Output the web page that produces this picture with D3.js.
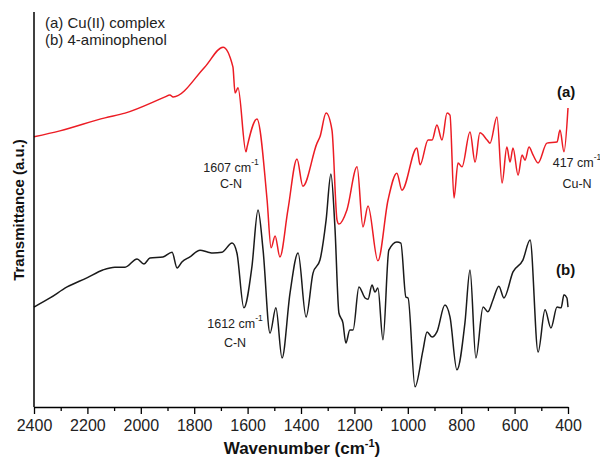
<!DOCTYPE html>
<html>
<head>
<meta charset="utf-8">
<script src="https://cdn.jsdelivr.net/npm/d3@7"></script>
<style>
  body { margin: 0; background: #fff; }
  svg { font-family: "Liberation Sans", Arial, sans-serif; }
</style>
</head>
<body>
<svg id="svg" width="600" height="459"></svg>
<script>
// wavenumbers (cm-1) and transmittance (a.u.)
var waveA = [2400, 2303, 2134, 2059, 1909, 1891, 1879, 1760, 1692, 1655, 1647, 1636, 1606, 1602,
    1565, 1527, 1512, 1497, 1479, 1449, 1415, 1393, 1340, 1329, 1306, 1284, 1265, 1258, 1228,
    1190, 1168, 1149, 1112, 1074, 1041, 1022, 966, 954, 924, 909, 891, 872, 853, 842, 827, 812,
    797, 767, 748, 730, 703, 692, 666, 647, 629, 617, 606, 587, 572, 561, 546, 531, 512, 479,
    441, 430, 415, 400];
var transA = [68.4, 69.9, 73.2, 74.4, 78.5, 79.0, 78.5, 86.1, 91.1, 86.1, 79.5, 80.8, 64.6, 65.8,
    72.9, 52.4, 40.3, 43.3, 38.0, 49.9, 62.8, 55.9, 66.8, 68.4, 74.4, 70.1, 47.3, 46.3, 49.9,
    60.8, 45.6, 50.9, 37.0, 52.4, 59.2, 54.9, 65.6, 61.3, 67.6, 67.6, 71.4, 67.6, 74.4, 73.9,
    52.9, 61.8, 60.8, 69.6, 62.0, 69.4, 67.6, 66.8, 73.4, 56.7, 65.8, 62.0, 65.6, 58.7, 63.8,
    62.5, 65.8, 63.8, 61.8, 66.8, 67.1, 70.1, 64.6, 75.7];

var waveB = [2400, 2340, 2276, 2202, 2142, 2097, 2059, 2014, 1988, 1966, 1917, 1883, 1864, 1846,
    1816, 1778, 1748, 1730, 1696, 1658, 1640, 1614, 1584, 1561, 1542, 1516, 1494, 1471, 1441,
    1411, 1381, 1355, 1329, 1306, 1288, 1273, 1258, 1243, 1232, 1217, 1205, 1183, 1160, 1149,
    1134, 1123, 1112, 1093, 1071, 1041, 1026, 1007, 999, 973, 943, 928, 909, 891, 861, 842,
    816, 786, 767, 745, 718, 700, 681, 659, 640, 606, 569, 542, 512, 486, 464, 441, 426, 415,
    404, 400];
var transB = [25.3, 27.6, 30.4, 32.7, 34.7, 35.4, 35.4, 37.5, 36.2, 37.7, 38.0, 39.2, 35.2, 36.7,
    38.0, 39.7, 39.2, 39.0, 39.2, 41.5, 39.0, 25.1, 35.4, 49.9, 39.7, 18.7, 25.1, 12.4, 28.9,
    39.0, 22.8, 33.9, 37.2, 47.3, 59.0, 45.6, 23.8, 21.3, 16.2, 19.5, 19.5, 30.4, 27.6, 27.3,
    30.9, 29.1, 30.1, 17.0, 39.7, 41.8, 41.5, 27.8, 27.6, 5.1, 14.4, 19.0, 17.7, 19.0, 25.8,
    22.8, 9.4, 21.3, 34.7, 12.4, 25.3, 24.1, 27.1, 30.6, 27.6, 34.2, 37.2, 42.3, 13.9, 24.6,
    20.0, 25.3, 25.1, 28.4, 27.6, 25.3];

var legendLines = ['(a) Cu(II) complex', '(b) 4-aminophenol'];
var xTicks = d3.range(400, 2401, 100);

var svg = d3.select('#svg');
var x = d3.scaleLinear().domain([2400, 400]).range([34, 568]);
var y = d3.scaleLinear().domain([0, 100]).range([407, 12]);

var line = d3.line()
    .x(function(d) { return x(d[0]); })
    .y(function(d) { return y(d[1]); })
    .curve(d3.curveMonotoneX);

function pairs(w, t) {
    return w.map(function(v, i) { return [v, t[i]]; })
        .sort(function(a, b) { return a[0] - b[0]; });
}

svg.append('path')
    .datum(pairs(waveB, transB))
    .attr('d', line)
    .attr('fill', 'none')
    .attr('stroke', '#1a1a1a')
    .attr('stroke-width', 1.5);

svg.append('path')
    .datum(pairs(waveA, transA))
    .attr('d', line)
    .attr('fill', 'none')
    .attr('stroke', '#ec1c24')
    .attr('stroke-width', 1.5);

// bottom axis: ticks every 100, labels every 200
var xAxis = d3.axisBottom(x)
    .tickValues(xTicks)
    .tickSizeOuter(0)
    .tickFormat(function(d) { return d % 200 === 0 ? d : ''; });
var gx = svg.append('g')
    .attr('transform', 'translate(0,407)')
    .call(xAxis);
gx.select('.domain').attr('stroke', '#000').attr('stroke-width', 1.5);
gx.selectAll('.tick line')
    .attr('stroke', '#000')
    .attr('stroke-width', 1.3)
    .attr('y2', function(d) { return d % 200 === 0 ? 7 : 4; });
gx.selectAll('.tick text')
    .attr('y', 13)
    .attr('font-size', 16)
    .attr('font-family', '"Liberation Sans", Arial, sans-serif')
    .attr('fill', '#222');

// left axis, no ticks
svg.append('line')
    .attr('x1', 34).attr('x2', 34)
    .attr('y1', 12).attr('y2', 407)
    .attr('stroke', '#000')
    .attr('stroke-width', 1.5);

// axis titles
var xt = svg.append('text')
    .attr('x', 302).attr('y', 454)
    .attr('text-anchor', 'middle')
    .attr('font-size', 17)
    .attr('font-weight', 'bold')
    .attr('fill', '#111')
    .text('Wavenumber (cm');
xt.append('tspan').attr('dy', -7).attr('font-size', 11).text('-1');
xt.append('tspan').attr('dy', 7).text(')');

svg.append('text')
    .attr('transform', 'translate(24,210) rotate(-90)')
    .attr('text-anchor', 'middle')
    .attr('font-size', 15)
    .attr('font-weight', 'bold')
    .attr('fill', '#111')
    .text('Transmittance (a.u.)');

// legend
svg.selectAll('.legend')
    .data(legendLines)
    .enter()
    .append('text')
    .attr('class', 'legend')
    .attr('x', 45)
    .attr('y', function(d, i) { return 28 + i * 17; })
    .attr('font-size', 15)
    .attr('fill', '#222')
    .text(function(d) { return d; });

// series tags
svg.append('text').attr('x', 557).attr('y', 97)
    .attr('font-size', 15).attr('font-weight', 'bold').attr('fill', '#111').text('(a)');
svg.append('text').attr('x', 556).attr('y', 275)
    .attr('font-size', 15).attr('font-weight', 'bold').attr('fill', '#111').text('(b)');

// peak annotations
function annotate(xc, y1, y2, main, sub) {
    var t = svg.append('text')
        .attr('x', xc).attr('y', y1)
        .attr('text-anchor', 'middle')
        .attr('font-size', 12.5)
        .attr('fill', '#222')
        .text(main + ' cm');
    t.append('tspan').attr('dy', -7).attr('font-size', 8.5).text('-1');
    svg.append('text')
        .attr('x', xc).attr('y', y2)
        .attr('text-anchor', 'middle')
        .attr('font-size', 12.5)
        .attr('fill', '#222')
        .text(sub);
}
annotate(231, 172, 188, '1607', 'C-N');
annotate(235, 328, 347, '1612', 'C-N');
annotate(577, 167, 188, '417', 'Cu-N');
</script>
</body>
</html>
